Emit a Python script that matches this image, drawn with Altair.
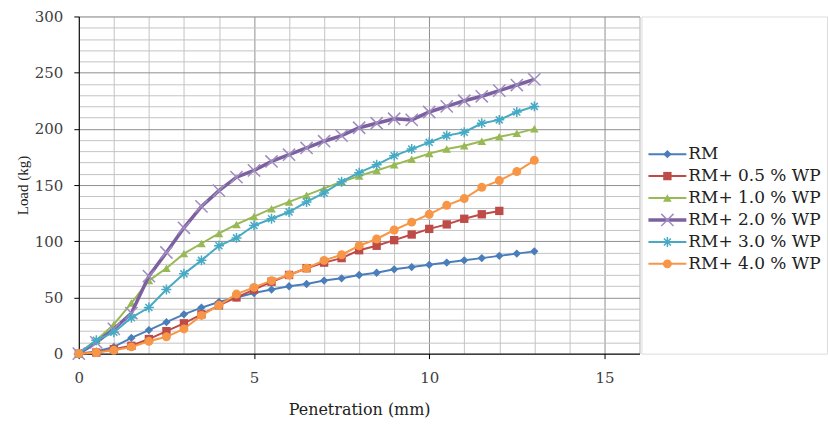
import altair as alt
import pandas as pd

# ---------------- data ----------------
penetration = [0, 0.5, 1, 1.5, 2, 2.5, 3, 3.5, 4, 4.5, 5, 5.5, 6, 6.5,
               7, 7.5, 8, 8.5, 9, 9.5, 10, 10.5, 11, 11.5, 12, 12.5, 13]

series_names = ["RM", "RM+ 0.5 % WP", "RM+ 1.0 % WP",
                "RM+ 2.0 % WP", "RM+ 3.0 % WP", "RM+ 4.0 % WP"]

load_rm = [0, 2, 6, 14, 21, 28, 35, 41, 46, 50, 54, 57, 60, 62,
           65, 67, 70, 72, 75, 77, 79, 81, 83, 85, 87, 89, 91]
load_05 = [0, 1, 4, 7, 13, 20, 27, 35, 43, 50, 57, 64, 70, 76,
           81, 85, 92, 96, 101, 106, 111, 115, 120, 124, 127]
load_10 = [0, 12, 26, 45, 65, 76, 89, 98, 107, 115, 122, 129, 135, 141,
           147, 153, 158, 163, 168, 173, 178, 182, 185, 189, 193, 196, 200]
load_20 = [0, 10, 22, 36, 69, 90, 112, 131, 145, 157, 163, 171, 177, 183,
           189, 194, 201, 205, 209, 208, 215, 220, 225, 229, 234, 239, 244]
load_30 = [0, 12, 19, 32, 41, 57, 71, 83, 96, 103, 114, 120, 126, 135,
           143, 153, 161, 168, 176, 182, 188, 194, 197, 205, 208, 215, 220]
load_40 = [0, 1, 3, 6, 11, 15, 22, 34, 43, 53, 59, 65, 70, 76,
           83, 88, 96, 102, 110, 117, 124, 132, 138, 148, 154, 162, 172]

all_loads = [load_rm, load_05, load_10, load_20, load_30, load_40]

x_ticks = list(range(0, 17))
y_ticks = list(range(0, 301, 10))

# ---------------- styles ----------------
line_colors = ["#4A7EBB", "#BE4B48", "#98B954", "#7D60A0", "#46AAC5", "#F79646"]
marker_colors = ["#4A7EBB", "#BE4B48", "#98B954", "#A08CC0", "#46AAC5", "#F79646"]
line_widths = [2, 2, 2, 3.5, 2, 2]
X_PATH = "M-1,-1L1,1M-1,1L1,-1"
AST_PATH = "M-1,0L1,0M0,-1L0,1M-0.7,-0.7L0.7,0.7M-0.7,0.7L0.7,-0.7"
shapes = ["diamond", "square", "triangle-up", X_PATH, AST_PATH, "circle"]
sizes = [70, 70, 75, 150, 100, 80]
filled = [True, True, True, False, False, True]

FONT = "DejaVu Serif"

x_axis = alt.Axis(
    values=x_ticks,
    labelExpr="datum.value % 5 === 0 ? datum.label : ''",
    gridColor={"condition": {"test": "datum.value % 5 === 0", "value": "#8f8f8f"}, "value": "#c4c4c4"},
    tickSize={"condition": {"test": "datum.value % 5 === 0", "value": 5}, "value": 0},
    labelFont=FONT, labelFontSize=15, labelColor="#404040", labelPadding=12,
    titleFont=FONT, titleFontSize=16, titleFontWeight="normal", titleColor="#222222",
    titlePadding=16, domainColor="#000000", tickColor="#000000", labelFlush=False,
)
y_axis = alt.Axis(
    values=y_ticks,
    labelExpr="datum.value % 50 === 0 ? datum.label : ''",
    gridColor={"condition": {"test": "datum.value % 50 === 0", "value": "#8f8f8f"}, "value": "#c4c4c4"},
    tickSize={"condition": {"test": "datum.value % 50 === 0", "value": 5}, "value": 0},
    labelFont=FONT, labelFontSize=15, labelColor="#404040", labelPadding=11,
    titleFont="Liberation Serif", titleFontSize=15, titleFontWeight="normal", titleColor="#222222",
    titlePadding=4, domainColor="#000000", tickColor="#000000", labelFlush=False,
)

x_enc = alt.X("pen:Q", scale=alt.Scale(domain=[0, 16], nice=False), axis=x_axis, title="Penetration (mm)")
y_enc = alt.Y("load:Q", scale=alt.Scale(domain=[0, 300], nice=False), axis=y_axis, title="Load (kg)")

layers = []
for i, name in enumerate(series_names):
    vals = all_loads[i]
    df = pd.DataFrame({"pen": penetration[:len(vals)], "load": vals, "series": name})
    base = alt.Chart(df).encode(x=x_enc, y=y_enc)
    layers.append(base.mark_line(color=line_colors[i], strokeWidth=line_widths[i], clip=False))
    if filled[i]:
        pt = base.mark_point(shape=shapes[i], size=sizes[i], filled=True,
                             fill=marker_colors[i], color=marker_colors[i], opacity=1, strokeWidth=0)
    else:
        pt = base.mark_point(shape=shapes[i], size=sizes[i], filled=False,
                             color=marker_colors[i], opacity=1, strokeWidth=1.5)
    layers.append(pt)

main = alt.layer(*layers).properties(width=562, height=338)

# ---------------- legend panel ----------------
leg_scale = alt.Scale(type="point", domain=series_names, range=[138, 248], padding=0)
leg_layers = []
for i, name in enumerate(series_names):
    d = pd.DataFrame({"series": [name]})
    b = alt.Chart(d).encode(y=alt.Y("series:N", scale=leg_scale, axis=None))
    leg_layers.append(b.mark_rule(color=line_colors[i], strokeWidth=line_widths[i])
                      .encode(x=alt.value(7), x2=alt.value(45)))
    if filled[i]:
        p = b.mark_point(shape=shapes[i], size=sizes[i], filled=True, fill=marker_colors[i],
                         color=marker_colors[i], opacity=1, strokeWidth=0)
    else:
        p = b.mark_point(shape=shapes[i], size=sizes[i], filled=False,
                         color=marker_colors[i], opacity=1, strokeWidth=1.5)
    leg_layers.append(p.encode(x=alt.value(26)))

leg_df = pd.DataFrame({"series": series_names})
leg_layers.append(
    alt.Chart(leg_df).mark_text(align="left", baseline="middle", font=FONT, fontSize=17, color="#222222")
    .encode(x=alt.value(47), y=alt.Y("series:N", scale=leg_scale, axis=None), text="series:N")
)
legend = alt.layer(*leg_layers).properties(width=186, height=338)

chart = alt.hconcat(main, legend, spacing=0).properties(
    padding={"left": 14, "top": 8, "right": 0, "bottom": 0}
).configure_view(stroke=None).configure(background="white")

chart.save("out.html", embed_options={"renderer": "svg", "actions": False})
